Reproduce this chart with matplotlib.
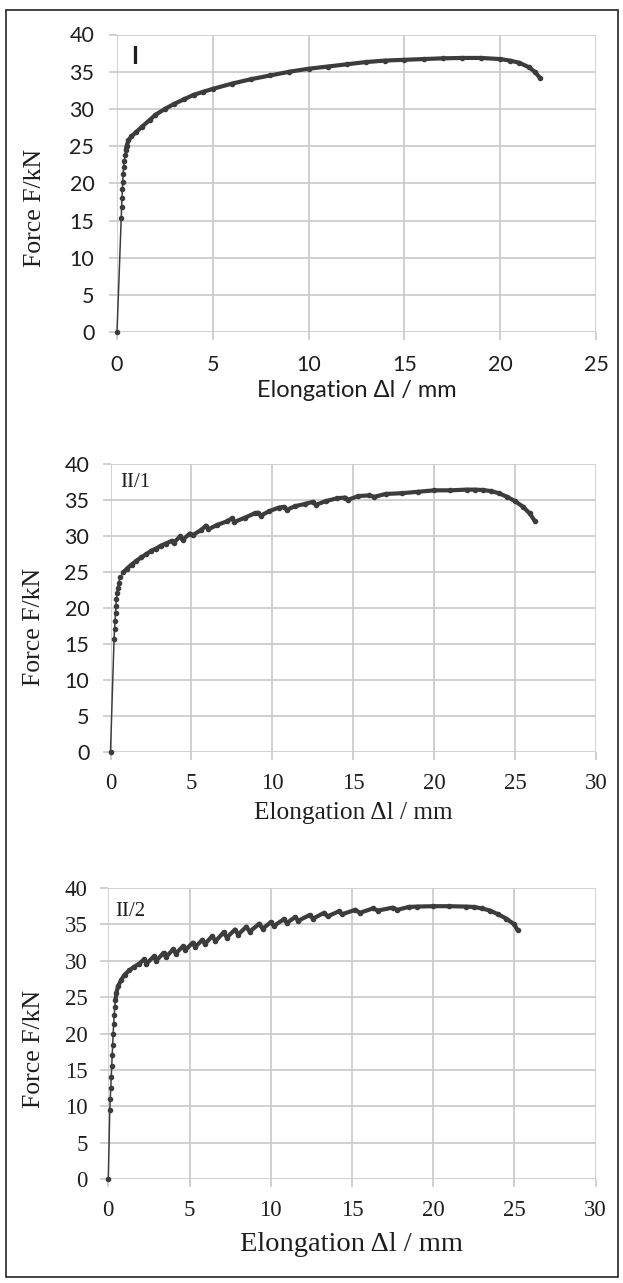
import matplotlib
matplotlib.use("Agg")
import matplotlib.pyplot as plt
from matplotlib.patches import Rectangle

# ---------------- data ----------------
# Panel I
x_I = [0, 0.22, 0.24, 0.26, 0.28, 0.30, 0.32, 0.35, 0.38, 0.42, 0.46, 0.5, 0.6, 0.75,
       1.0, 1.3, 1.7, 2.0, 2.5, 3, 3.5, 4, 4.5, 5, 6, 7, 8, 9, 10, 11, 12, 13, 14, 15,
       16, 17, 18, 19, 20, 20.5, 21, 21.5, 21.8, 22.1]
y_I = [0, 15.3, 16.8, 18.0, 19.2, 20.2, 21.2, 22.2, 23.0, 23.8, 24.5, 25.0, 25.8, 26.3,
       26.9, 27.6, 28.5, 29.2, 30.0, 30.7, 31.3, 31.9, 32.3, 32.7, 33.4, 34.0, 34.5, 35.0,
       35.4, 35.7, 36.0, 36.3, 36.5, 36.6, 36.7, 36.8, 36.85, 36.85, 36.7, 36.5, 36.2,
       35.6, 35.0, 34.1]

# Panel II/1
x_II1 = [0, 0.22, 0.25, 0.28, 0.31, 0.34, 0.37, 0.40, 0.44, 0.5, 0.6, 0.8, 1.0, 1.3,
         1.6, 1.9, 2.2, 2.5, 2.8, 3.1, 3.4, 3.8, 3.9, 4.3, 4.45, 4.9, 5.1, 5.6, 5.9, 6.05,
         6.6, 7.2, 7.5, 7.65, 8.3, 8.9, 9.1, 9.3, 9.8, 10.4, 10.7, 10.9, 11.4, 12.0, 12.5,
         12.7, 13.3, 14.0, 14.5, 14.7, 15.3, 16.0, 16.3, 17, 18, 19, 20, 21, 22, 22.5, 23,
         23.5, 24, 24.5, 25, 25.5, 25.9, 26.2]
y_II1 = [0, 15.7, 17.0, 18.2, 19.3, 20.3, 21.2, 22.0, 22.8, 23.5, 24.2, 24.9, 25.4, 26.0,
         26.5, 27.0, 27.4, 27.9, 28.2, 28.6, 28.9, 29.3, 29.0, 29.9, 29.4, 30.3, 30.1, 30.8,
         31.4, 30.9, 31.5, 32.0, 32.4, 31.9, 32.5, 33.1, 33.2, 32.8, 33.4, 33.9, 34.0, 33.6,
         34.1, 34.4, 34.7, 34.3, 34.8, 35.2, 35.3, 35.0, 35.5, 35.6, 35.4, 35.8, 35.9, 36.1,
         36.3, 36.3, 36.4, 36.4, 36.35, 36.2, 35.9, 35.4, 34.8, 34.0, 33.1, 32.1]

# Panel II/2
x_II2 = [0, 0.09, 0.12, 0.15, 0.18, 0.21, 0.24, 0.27, 0.30, 0.33, 0.36, 0.40, 0.44, 0.5,
         0.6, 0.8, 1.0, 1.3, 1.6, 1.9, 2.2, 2.35, 2.8, 2.95, 3.4, 3.55, 4.0, 4.15, 4.6, 4.75,
         5.2, 5.35, 5.8, 5.95, 6.4, 6.6, 7.1, 7.3, 7.8, 8.0, 8.5, 8.7, 9.3, 9.5, 10.0, 10.2,
         10.8, 11.0, 11.5, 11.7, 12.4, 12.6, 13.3, 13.5, 14.2, 14.4, 15.2, 15.5, 16.3, 16.6,
         17.5, 17.8, 18.5, 19, 20, 21, 22, 22.5, 23, 23.5, 24, 24.5, 25, 25.2]
y_II2 = [0, 9.5, 11.0, 12.5, 14.0, 15.5, 17.0, 18.5, 20.0, 21.3, 22.5, 23.6, 24.6, 25.6,
         26.5, 27.4, 28.1, 28.7, 29.2, 29.6, 30.2, 29.6, 30.6, 30.0, 31.1, 30.5, 31.6, 31.0,
         32.0, 31.5, 32.5, 31.9, 32.9, 32.3, 33.4, 32.7, 33.9, 33.2, 34.3, 33.6, 34.7, 34.0,
         35.1, 34.4, 35.3, 34.8, 35.7, 35.2, 36.0, 35.5, 36.3, 35.8, 36.6, 36.1, 36.8, 36.4,
         37.0, 36.6, 37.2, 36.9, 37.3, 37.0, 37.4, 37.45, 37.5, 37.5, 37.45, 37.4, 37.2,
         36.9, 36.4, 35.8, 35.0, 34.2]

y_ticks = [0, 5, 10, 15, 20, 25, 30, 35, 40]
x_ticks_I = [0, 5, 10, 15, 20, 25]
x_ticks_II = [0, 5, 10, 15, 20, 25, 30]

# ---------------- figure ----------------
W, H = 623, 1283
fig = plt.figure(figsize=(W / 100, H / 100), dpi=100)

SANS = "Lato"
SERIF = "Liberation Serif"
GRID = "#c8c8c8"
CURVE = "#3c3c3c"
TXT = "#1e1e1e"


def px_axes(l, r, t, b):
    return [l / W, 1 - b / H, (r - l) / W, (b - t) / H]


def draw_curve(ax, x, y):
    ax.plot(x, y, color=CURVE, lw=1.1, marker="o", ms=3.0, mec=CURVE, mfc=CURVE,
            zorder=3, clip_on=False)
    # the dense plastic part appears as a thick band
    i0 = next(i for i, v in enumerate(y) if v >= 24.5)
    ax.plot(x[i0:], y[i0:], color=CURVE, lw=3.0, solid_capstyle="round",
            zorder=3, clip_on=False)


def style_axes(ax, xmax, xticks, yfont, xfont, ytsize, xtsize, pad):
    ax.set_xlim(0, xmax)
    ax.set_ylim(0, 40)
    ax.set_xticks(xticks)
    ax.set_yticks(y_ticks)
    for s in ax.spines.values():
        s.set_visible(False)
    ax.grid(True, color=GRID, lw=1.2, zorder=0)
    ax.set_axisbelow(True)
    ax.tick_params(axis="both", length=5.8, width=1.2, color=GRID, pad=pad)
    for lab in ax.get_yticklabels():
        lab.set_fontfamily(yfont)
        lab.set_fontsize(ytsize)
        lab.set_color(TXT)
    for lab in ax.get_xticklabels():
        lab.set_fontfamily(xfont)
        lab.set_fontsize(xtsize)
        lab.set_color(TXT)


# Panel I
ax1 = fig.add_axes(px_axes(117, 596, 34.5, 332.3))
draw_curve(ax1, x_I, y_I)
style_axes(ax1, 25, x_ticks_I, SANS, SANS, 15.5, 15.5, 10.5)
ax1.set_xlabel("Elongation \u0394l / mm", fontfamily=SANS, fontsize=17, color=TXT)
ax1.xaxis.set_label_coords(0.5, -0.194)
ax1.xaxis.label.set_va("center")
ax1.set_ylabel("Force F/kN", fontfamily=SERIF, fontsize=18.5, color=TXT)
ax1.yaxis.set_label_coords(-0.171, 0.419)
ax1.yaxis.label.set_va("center")
fig.text(135 / W, 1 - 57 / H, "I", fontfamily=SANS, fontweight="bold", fontsize=17,
         ha="center", va="center", color=TXT)

# Panel II/1
ax2 = fig.add_axes(px_axes(110.5, 596, 463.7, 751.7))
draw_curve(ax2, x_II1, y_II1)
style_axes(ax2, 30, x_ticks_II, SANS, SERIF, 15.5, 16.5, 9.5)
ax2.set_xlabel("Elongation \u0394l / mm", fontfamily=SERIF, fontsize=18.3, color=TXT)
ax2.xaxis.set_label_coords(0.5, -0.213)
ax2.xaxis.label.set_va("center")
ax2.set_ylabel("Force F/kN", fontfamily=SERIF, fontsize=18.5, color=TXT)
ax2.yaxis.set_label_coords(-0.1576, 0.433)
ax2.yaxis.label.set_va("center")
fig.text(135 / W, 1 - 482 / H, "II/1", fontfamily=SERIF, fontsize=15,
         ha="center", va="center", color=TXT)

# Panel II/2
ax3 = fig.add_axes(px_axes(108.3, 595.5, 888, 1179.3))
draw_curve(ax3, x_II2, y_II2)
style_axes(ax3, 30, x_ticks_II, SERIF, SERIF, 16.5, 16.5, 9)
ax3.set_xlabel("Elongation \u0394l / mm", fontfamily=SERIF, fontsize=20.5, color=TXT)
ax3.xaxis.set_label_coords(0.5, -0.2255)
ax3.xaxis.label.set_va("center")
ax3.set_ylabel("Force F/kN", fontfamily=SERIF, fontsize=18.5, color=TXT)
ax3.yaxis.set_label_coords(-0.1525, 0.447)
ax3.yaxis.label.set_va("center")
fig.text(130.5 / W, 1 - 911 / H, "II/2", fontfamily=SERIF, fontsize=15,
         ha="center", va="center", color=TXT)

# outer frame
fig.patches.append(Rectangle((6 / W, 1 - 1277 / H), (618 - 6) / W, (1277 - 10) / H,
                             transform=fig.transFigure, fill=False, ec="#222222",
                             lw=1.2))

fig.savefig("out.png", dpi=100)
